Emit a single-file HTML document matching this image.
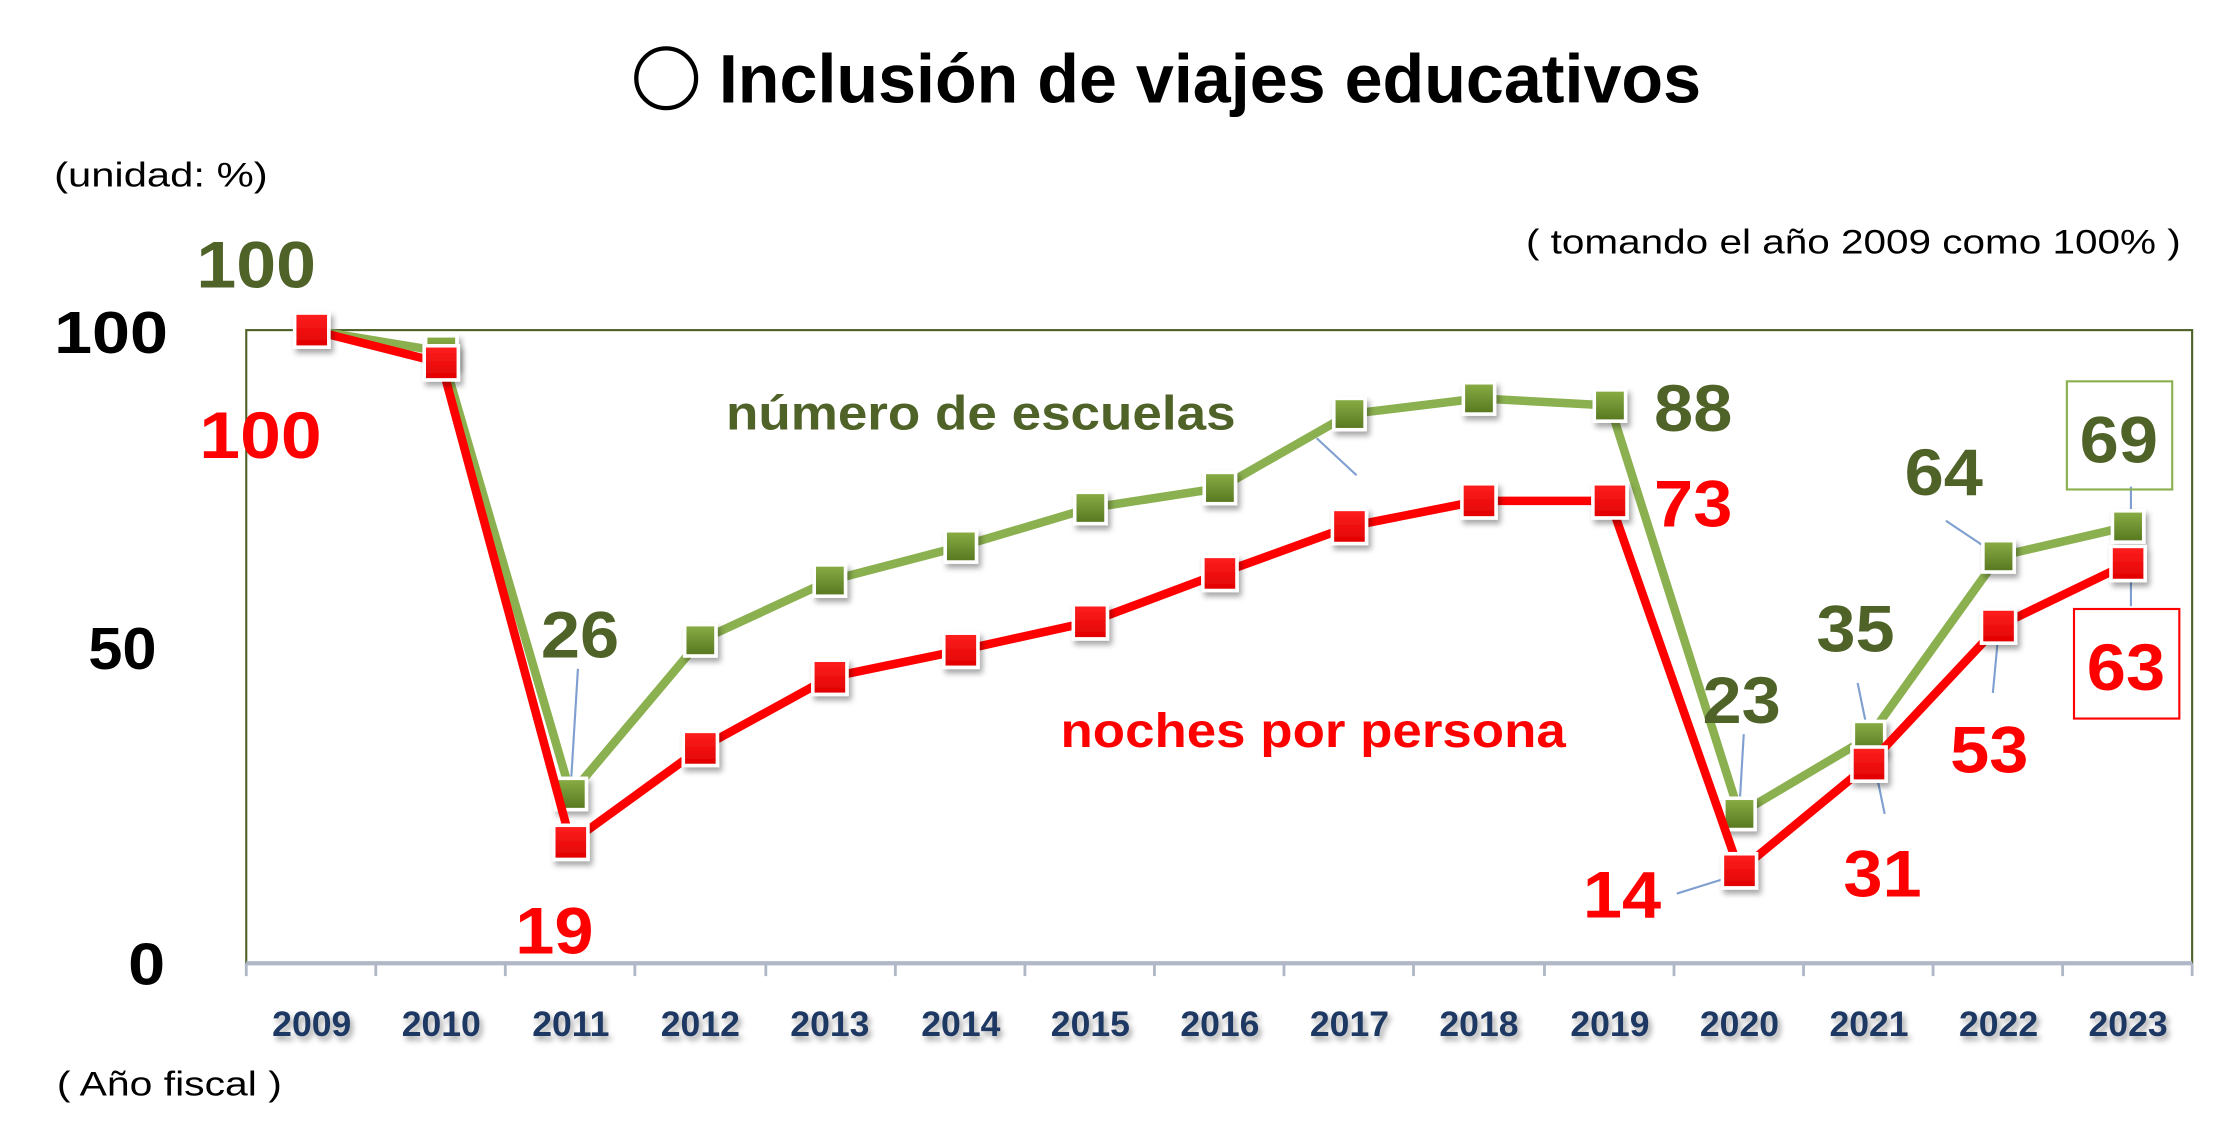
<!DOCTYPE html>
<html><head><meta charset="utf-8"><style>
html,body{margin:0;padding:0;background:#fff;}
svg{display:block;}
text{font-family:"Liberation Sans","DejaVu Sans",sans-serif;font-weight:bold;}
</style></head><body>
<svg width="2232" height="1144" viewBox="0 0 1568 804" preserveAspectRatio="none" xmlns="http://www.w3.org/2000/svg">
<defs>
<linearGradient id="gg" x1="0" y1="0" x2="0" y2="1"><stop offset="0" stop-color="#8aae46"/><stop offset="1" stop-color="#56761f"/></linearGradient>
<linearGradient id="rg" x1="0" y1="0" x2="0" y2="1"><stop offset="0" stop-color="#ff2020"/><stop offset="1" stop-color="#e00000"/></linearGradient>
<filter id="sh" x="-50%" y="-50%" width="200%" height="200%"><feDropShadow dx="2" dy="3" stdDeviation="2" flood-color="#000" flood-opacity="0.35"/></filter>
</defs>
<circle cx="468" cy="55" r="21" fill="none" stroke="#000" stroke-width="3"/>
<text x="505" y="72" font-size="48" textLength="690" lengthAdjust="spacingAndGlyphs">Inclusión de viajes educativos</text>
<text x="38" y="131" font-size="24" style="font-weight:normal" textLength="150" lengthAdjust="spacingAndGlyphs">(unidad: %)</text>
<text x="1072" y="178" font-size="24" style="font-weight:normal" textLength="460" lengthAdjust="spacingAndGlyphs">( tomando el año 2009 como 100% )</text>
<text x="40" y="770" font-size="24" style="font-weight:normal" textLength="158" lengthAdjust="spacingAndGlyphs">( Año fiscal )</text>
<rect x="173" y="232" width="1367" height="445" fill="none" stroke="#4f6228" stroke-width="1.5"/>
<line x1="173" y1="677" x2="1540" y2="677" stroke="#b0b8c8" stroke-width="3"/>
<g stroke="#b0b8c8" stroke-width="2">
<line x1="173" y1="677" x2="173" y2="686"/><line x1="264" y1="677" x2="264" y2="686"/><line x1="355" y1="677" x2="355" y2="686"/><line x1="446" y1="677" x2="446" y2="686"/><line x1="538" y1="677" x2="538" y2="686"/><line x1="629" y1="677" x2="629" y2="686"/><line x1="720" y1="677" x2="720" y2="686"/><line x1="811" y1="677" x2="811" y2="686"/><line x1="902" y1="677" x2="902" y2="686"/><line x1="993" y1="677" x2="993" y2="686"/><line x1="1085" y1="677" x2="1085" y2="686"/><line x1="1176" y1="677" x2="1176" y2="686"/><line x1="1267" y1="677" x2="1267" y2="686"/><line x1="1358" y1="677" x2="1358" y2="686"/><line x1="1449" y1="677" x2="1449" y2="686"/><line x1="1540" y1="677" x2="1540" y2="686"/>
</g>
<g font-size="42" fill="#000">
<text x="38" y="248" textLength="80" lengthAdjust="spacingAndGlyphs">100</text>
<text x="62" y="470" textLength="48" lengthAdjust="spacingAndGlyphs">50</text>
<text x="90" y="692" textLength="26" lengthAdjust="spacingAndGlyphs">0</text>
</g>
<g font-size="25" fill="#1f3864" text-anchor="middle" filter="url(#sh)">
<text x="219" y="728">2009</text><text x="310" y="728">2010</text><text x="401" y="728">2011</text><text x="492" y="728">2012</text><text x="583" y="728">2013</text><text x="675" y="728">2014</text><text x="766" y="728">2015</text><text x="857" y="728">2016</text><text x="948" y="728">2017</text><text x="1039" y="728">2018</text><text x="1131" y="728">2019</text><text x="1222" y="728">2020</text><text x="1313" y="728">2021</text><text x="1404" y="728">2022</text><text x="1495" y="728">2023</text>
</g>
<g stroke="#7f9fd0" stroke-width="1.5" fill="none">
<line x1="925" y1="308" x2="953" y2="334"/>
<line x1="406" y1="470" x2="401" y2="552"/>
<line x1="1225" y1="516" x2="1222" y2="567"/>
<line x1="1178" y1="628" x2="1210" y2="618"/>
<line x1="1305" y1="480" x2="1324" y2="572"/>
<line x1="1367" y1="366" x2="1400" y2="388"/>
<line x1="1404" y1="444" x2="1400" y2="487"/>
<line x1="1497" y1="342" x2="1497" y2="366"/>
<line x1="1497" y1="402" x2="1497" y2="426"/>
</g>
<polyline fill="none" stroke="#8bb04f" stroke-width="6" stroke-linejoin="round" points="219,232 310,247 401,558 492,450 583,408 675,384 766,357 857,343 948,291 1039,280 1131,285 1222,572 1313,518 1404,391 1495,370"/>
<g fill="url(#gg)" stroke="#fff" stroke-width="2.5" filter="url(#sh)">
<rect x="299" y="236" width="22" height="22"/><rect x="390" y="547" width="22" height="22"/><rect x="481" y="439" width="22" height="22"/><rect x="572" y="397" width="22" height="22"/><rect x="664" y="373" width="22" height="22"/><rect x="755" y="346" width="22" height="22"/><rect x="846" y="332" width="22" height="22"/><rect x="937" y="280" width="22" height="22"/><rect x="1028" y="269" width="22" height="22"/><rect x="1120" y="274" width="22" height="22"/><rect x="1211" y="561" width="22" height="22"/><rect x="1302" y="507" width="22" height="22"/><rect x="1393" y="380" width="22" height="22"/><rect x="1484" y="359" width="22" height="22"/>
</g>
<polyline fill="none" stroke="#ff0000" stroke-width="6" stroke-linejoin="round" points="219,232 310,255 401,592 492,526 583,476 675,457 766,437 857,403 948,370 1039,352 1131,352 1222,612 1313,537 1404,440 1495,396"/>
<g fill="url(#rg)" stroke="#fff" stroke-width="2.5" filter="url(#sh)">
<rect x="207" y="220" width="24" height="24"/><rect x="298" y="243" width="24" height="24"/><rect x="389" y="580" width="24" height="24"/><rect x="480" y="514" width="24" height="24"/><rect x="571" y="464" width="24" height="24"/><rect x="663" y="445" width="24" height="24"/><rect x="754" y="425" width="24" height="24"/><rect x="845" y="391" width="24" height="24"/><rect x="936" y="358" width="24" height="24"/><rect x="1027" y="340" width="24" height="24"/><rect x="1119" y="340" width="24" height="24"/><rect x="1210" y="600" width="24" height="24"/><rect x="1301" y="525" width="24" height="24"/><rect x="1392" y="428" width="24" height="24"/><rect x="1483" y="384" width="24" height="24"/>
</g>
<g fill="#4f6228" font-size="46">
<text x="138" y="202" textLength="84" lengthAdjust="spacingAndGlyphs">100</text>
<text x="380" y="462" textLength="55" lengthAdjust="spacingAndGlyphs">26</text>
<text x="1162" y="303" textLength="55" lengthAdjust="spacingAndGlyphs">88</text>
<text x="1196" y="508" textLength="55" lengthAdjust="spacingAndGlyphs">23</text>
<text x="1276" y="458" textLength="55" lengthAdjust="spacingAndGlyphs">35</text>
<text x="1338" y="348" textLength="55" lengthAdjust="spacingAndGlyphs">64</text>
<text x="1461" y="325" textLength="55" lengthAdjust="spacingAndGlyphs">69</text>
</g>
<rect x="1452" y="268" width="74" height="76" fill="none" stroke="#8bb04f" stroke-width="1.5"/>
<text x="510" y="302" font-size="34" fill="#4f6228" textLength="358" lengthAdjust="spacingAndGlyphs">número de escuelas</text>
<g fill="#ff0000" font-size="46">
<text x="140" y="322" textLength="86" lengthAdjust="spacingAndGlyphs">100</text>
<text x="362" y="670" textLength="55" lengthAdjust="spacingAndGlyphs">19</text>
<text x="1162" y="370" textLength="55" lengthAdjust="spacingAndGlyphs">73</text>
<text x="1112" y="645" textLength="55" lengthAdjust="spacingAndGlyphs">14</text>
<text x="1295" y="630" textLength="55" lengthAdjust="spacingAndGlyphs">31</text>
<text x="1370" y="543" textLength="55" lengthAdjust="spacingAndGlyphs">53</text>
<text x="1466" y="485" textLength="55" lengthAdjust="spacingAndGlyphs">63</text>
</g>
<rect x="1457" y="428" width="74" height="77" fill="none" stroke="#ff0000" stroke-width="1.5"/>
<text x="745" y="525" font-size="34" fill="#ff0000" textLength="355" lengthAdjust="spacingAndGlyphs">noches por persona</text>
</svg>
</body></html>
